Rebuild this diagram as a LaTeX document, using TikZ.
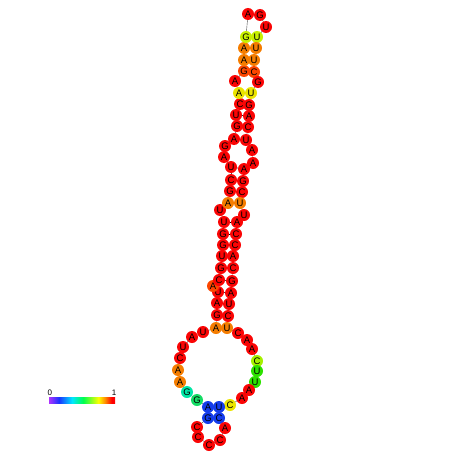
\documentclass[tikz,border=0pt]{standalone}
\usepackage{fontspec}
\setmainfont{Liberation Sans}
\usetikzlibrary{backgrounds}

\definecolor{ntred}{RGB}{250,5,5}
\definecolor{ntredor}{RGB}{252,70,0}
\definecolor{ntorange}{RGB}{245,125,0}
\definecolor{ntyellow}{RGB}{235,228,0}
\definecolor{ntlime}{RGB}{200,240,0}
\definecolor{ntchart}{RGB}{165,240,0}
\definecolor{ntgreen}{RGB}{45,225,0}
\definecolor{ntteal}{RGB}{20,220,100}
\definecolor{ntcyan}{RGB}{0,230,165}
\definecolor{ntblue}{RGB}{20,60,235}

\pgfdeclarehorizontalshading{heatbar}{100bp}{%
  rgb(0bp)=(0.68,0.2,1); rgb(25bp)=(0.68,0.2,1);
  rgb(32.5bp)=(0.1,0.2,1); rgb(42.5bp)=(0,0.9,1);
  rgb(51bp)=(0,1,0.3); rgb(62.5bp)=(1,1,0);
  rgb(67.5bp)=(1,0.55,0); rgb(72.5bp)=(1,0,0);
  rgb(100bp)=(1,0,0)}

\begin{document}
\begin{tikzpicture}[
    x=1pt, y=-1pt,
    nt/.style={circle, inner sep=0pt, minimum size=12pt,
      font=\fontsize{9.5}{9.5}\selectfont},
    pairline/.style={draw=black, line width=0.5pt},
    backbone/.style={draw=black!70, line width=0.4pt}
]
    \useasboundingbox (0,0) rectangle (452,452);
    % bases
    \foreach \i/\x/\y/\b/\c in {
        1/203/332/U/ntred, 2/216/328/A/ntorange, 3/217/315/G/ntred,
        4/217/303/A/ntred, 5/218/292/U/ntred, 6/213/286/A/ntredor,
        7/219/280/C/ntred, 8/221/268/G/ntred, 9/222/256/U/ntred,
        10/223/245/G/ntred, 11/223/234/G/ntred, 12/224/222/U/ntred,
        13/220/210/U/ntred, 14/228/203/A/ntorange, 15/230/191/G/ntred,
        16/231/180/C/ntred, 17/231/167/U/ntred, 18/224/157/A/ntred,
        19/225/146/G/ntred, 20/234/139/A/ntred, 21/237/126/G/ntred,
        22/236/115/U/ntred, 23/240/104/C/ntred, 24/239/93/A/ntyellow,
        25/235/81/A/ntred, 26/244/71/G/ntredor, 27/244/60/A/ntorange,
        28/244/48/A/ntorange, 29/246/37/G/ntlime, 30/248/14/A/ntred,
        31/260/15/G/ntred, 32/266/27/U/ntred, 33/257/37/U/ntlime,
        34/256/48/U/ntorange, 35/254/60/U/ntorange, 36/254/72/C/ntredor,
        37/258/82/G/ntred, 38/251/93/U/ntyellow, 39/249/105/G/ntred,
        40/249/116/A/ntred, 41/248/127/C/ntred, 42/246/140/U/ntred,
        43/252/150/A/ntred, 44/253/163/A/ntred, 45/244/169/A/ntred,
        46/243/181/G/ntred, 47/242/192/C/ntred, 48/240/203/U/ntorange,
        49/244/215/U/ntred, 50/237/222/A/ntred, 51/236/234/C/ntred,
        52/235/245/C/ntred, 53/233/256/A/ntred, 54/233/268/C/ntred,
        55/232/281/G/ntred, 56/231/293/A/ntred, 57/229/304/U/ntred,
        58/228/316/C/ntred, 59/227/328/U/ntorange, 60/238/333/C/ntred,
        61/247/340/A/ntred, 62/252/349/A/ntred, 63/257/361/C/ntchart,
        64/257/371/U/ntgreen, 65/255/382/U/ntgreen, 66/249/390/A/ntred,
        67/242/398/A/ntred, 68/230/405/C/ntyellow, 69/219/407/U/ntblue,
        70/219/418/C/ntblue, 71/225/428/A/ntred, 72/220/440/C/ntred,
        73/209/445/C/ntred, 74/198/437/C/ntred, 75/197/427/C/ntred,
        76/208/418/G/ntblue, 77/208/407/A/ntblue, 78/197/400/G/ntteal,
        79/187/392/G/ntcyan, 80/180/382/A/ntorange, 81/178/370/A/ntorange,
        82/180/358/C/ntred, 83/183/347/U/ntred, 84/192/337/A/ntred}
        \node[nt, fill=\c] (n\i) at (\x,\y) {\b};
    \begin{scope}[on background layer]
        % backbone
        \foreach \i [evaluate=\i as \j using int(\i+1)] in {1,...,83}
            \draw[backbone] (n\i.center) -- (n\j.center);
        % pairs
        \foreach \a/\b in {2/59, 3/58, 4/57, 5/56, 7/55, 8/54, 9/53,
            10/52, 11/51, 12/50, 14/48, 15/47, 16/46, 17/45, 20/42,
            21/41, 22/40, 23/39, 24/38, 26/36, 27/35, 28/34, 29/33,
            69/77, 70/76}
            \draw[pairline] (n\a.center) -- (n\b.center);
    \end{scope}
    % colour scale
    \node[
        shading = heatbar,
        minimum width = 66pt,
        minimum height = 6pt,
        inner sep = 0pt
    ] (bar) at (82,400) {};
    \node[font=\fontsize{8}{8}\selectfont, inner sep=1pt, anchor=south]
        (lo) at ([xshift=1pt]bar.north west) {0};
    \node[font=\fontsize{8}{8}\selectfont, inner sep=1pt, anchor=south]
        (hi) at ([xshift=-1pt]bar.north east) {1};
\end{tikzpicture}
\end{document}
